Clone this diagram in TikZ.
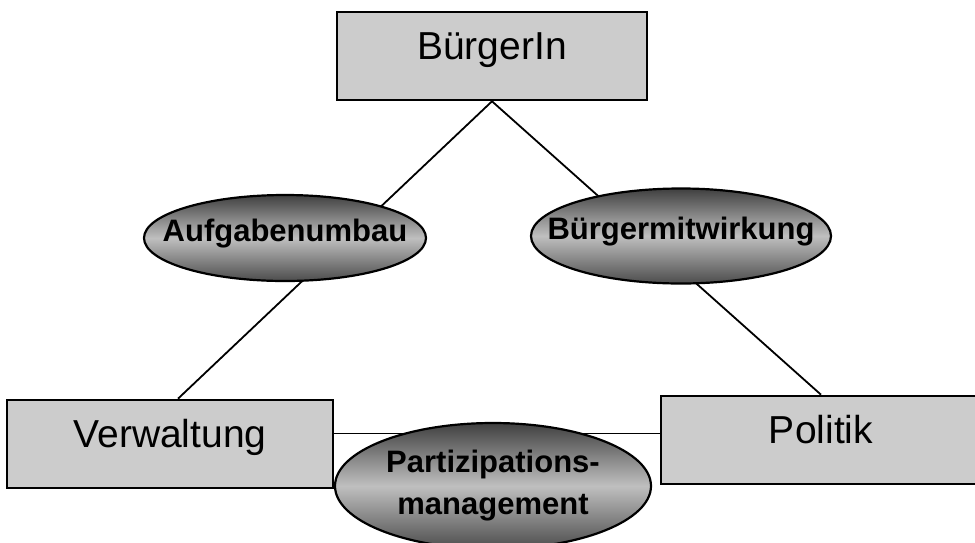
\documentclass[tikz,border=0pt]{standalone}
\usepackage{fontspec}
\setmainfont{Liberation Sans}
\usetikzlibrary{shapes.geometric,backgrounds}
\begin{document}
\begin{tikzpicture}[x=1pt,y=-1pt,
  boxnode/.style={draw=black, line width=2.6pt, fill=black!20, minimum width=#1,
    minimum height=88pt, inner sep=0pt, font=\fontsize{39}{44}\selectfont,
    text height=0.716em, text depth=0pt},
  ovalnode/.style 2 args={ellipse, draw=black, line width=2.2pt,
    top color=black!75, bottom color=black!70, middle color=black!25,
    minimum width=#1, minimum height=#2, inner sep=0pt,
    font=\fontsize{31}{42}\bfseries\selectfont},
  ovaltext/.style={text height=0.716em, text depth=0pt},
  link/.style={line width=1.8pt, draw=black}]
\useasboundingbox (0,0) rectangle (975,542);
\clip (0,0) rectangle (975,542);

\node[boxnode=310pt] (bu) at (492,56) {BürgerIn};
\node[boxnode=326pt] (ve) at (170,444) {Verwaltung};
\node[boxnode=320pt] (po) at (821,440) {Politik};

\node[ovalnode={282pt}{86pt}, ovaltext] (au) at (285,238) {\makebox[0pt]{Aufgabenumbau}};
\node[ovalnode={300pt}{95pt}, ovaltext] (bm) at (681,236) {\makebox[0pt]{Bürgermitwirkung}};
\node[ovalnode={316pt}{126pt}, align=center] (pm) at (493,486)
  {\makebox[0pt]{Partizipations-}\\\makebox[0pt]{management}};

\coordinate (hl) at (0,433.5);

\begin{scope}[on background layer]
  \fill[white] (0,0) rectangle (975,542);
  \draw[link] (bu.south) -- ([xshift=8pt]ve.north);
  \draw[link] (bu.south) -- (po.north);
  \draw[link] (ve.east |- hl) -- (po.west |- hl);
\end{scope}
\end{tikzpicture}
\end{document}
